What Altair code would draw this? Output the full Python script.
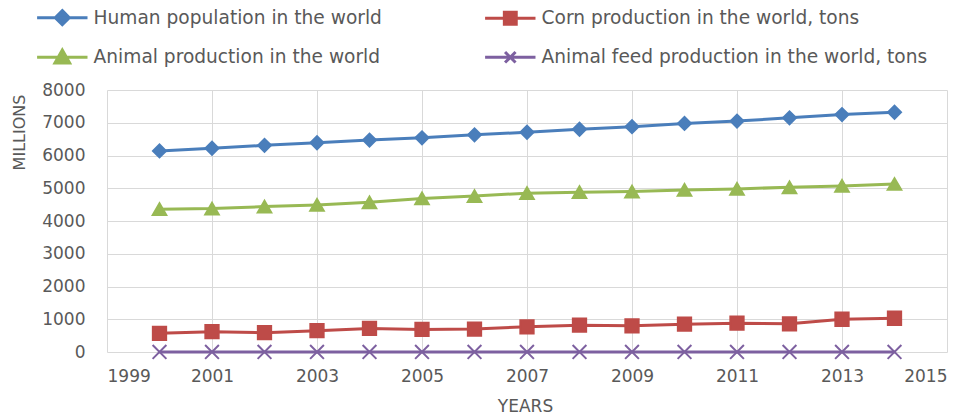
import altair as alt
import pandas as pd

years = list(range(2000, 2015))
series_names = [
    "Human population in the world",
    "Corn production in the world, tons",
    "Animal production in the world",
    "Animal feed production in the world, tons",
]
human = [6140, 6220, 6310, 6390, 6470, 6540, 6630, 6710, 6800, 6880, 6980, 7050, 7150, 7250, 7320]
corn = [570, 620, 590, 650, 720, 690, 700, 770, 820, 800, 850, 880, 860, 1000, 1030]
animal = [4360, 4380, 4440, 4490, 4570, 4690, 4760, 4850, 4880, 4900, 4950, 4980, 5030, 5070, 5130]
feed = [1] * 15

values_by_series = [human, corn, animal, feed]
rows = []
for name, vals in zip(series_names, values_by_series):
    for yr, v in zip(years, vals):
        rows.append({"year": yr, "series": name, "value": v})
df = pd.DataFrame(rows)

colors = ["#4A7EBB", "#BE4B48", "#98B954", "#7D60A0"]
shapes = ["diamond", "square", "triangle-up", "M-1,-1L1,1M1,-1L-1,1"]
legend_shapes = [
    "M-3.6,0H3.6M0,-1L1,0L0,1L-1,0Z",
    "M-3.6,0H3.6M-0.85,-0.85H0.85V0.85H-0.85Z",
    "M-3.6,0H3.6M0,-1.05L1.05,0.8L-1.05,0.8Z",
    "M-3.6,0H3.6M-0.75,-0.75L0.75,0.75M0.75,-0.75L-0.75,0.75",
]

x_enc = alt.X("year:Q", scale=alt.Scale(domain=[1999, 2015], nice=False, zero=False),
              axis=alt.Axis(values=list(range(1999, 2016, 2)), format="d", title="YEARS",
                            titleX=418, titleY=54, titleBaseline="middle", titleAlign="center",
                            labelPadding=16, labelFontSize=17, titleFontSize=17))
y_enc = alt.Y("value:Q", scale=alt.Scale(domain=[0, 8000], nice=False),
              axis=alt.Axis(values=list(range(0, 8001, 1000)), format="d", labelOverlap=False,
                            title="MILLIONS", labelFontSize=17,
                            titleX=-88, titleY=42, titleAngle=-90, titleBaseline="middle",
                            titleAlign="center", labelPadding=22))

base = alt.Chart(df)

lines = base.mark_line(strokeWidth=3).encode(
    x=x_enc, y=y_enc,
    color=alt.Color("series:N", scale=alt.Scale(domain=series_names, range=colors), legend=None),
)

points = base.mark_point(filled=True, opacity=1, strokeWidth=2).encode(
    x=x_enc, y=y_enc,
    fill=alt.Fill("series:N", scale=alt.Scale(domain=series_names, range=colors), legend=None),
    stroke=alt.Stroke("series:N", scale=alt.Scale(domain=series_names, range=colors), legend=None),
    shape=alt.Shape("series:N", scale=alt.Scale(domain=series_names, range=shapes), legend=None),
    size=alt.Size("series:N", scale=alt.Scale(domain=series_names, range=[170, 190, 190, 80]), legend=None),
)

leg = alt.Legend(
    title=None, orient="none", legendX=-54, legendY=-82, columns=2, direction="horizontal",
    columnPadding=97, rowPadding=12, labelLimit=400, labelFontSize=18.6, labelColor="#595959",
    labelOffset=22, symbolSize=196, symbolStrokeWidth=3, padding=0,
)
legend_layer = base.transform_filter("false").mark_point(filled=True, opacity=1, size=196).encode(
    x=x_enc, y=y_enc,
    fill=alt.Fill("series:N", scale=alt.Scale(domain=series_names, range=colors), legend=leg),
    stroke=alt.Stroke("series:N", scale=alt.Scale(domain=series_names, range=colors), legend=leg),
    shape=alt.Shape("series:N", scale=alt.Scale(domain=series_names, range=legend_shapes), legend=leg),
)

chart = alt.layer(lines, points, legend_layer).resolve_scale(
    fill="independent", stroke="independent", shape="independent", size="independent"
).properties(
    width=840, height=262,
    autosize=alt.AutoSizeParams(type="none"),
    padding={"left": 107, "top": 90, "right": 27, "bottom": 64},
).configure(
    font="DejaVu Sans",
).configure_view(
    stroke=None,
).configure_axis(
    grid=True, gridColor="#D9D9D9", gridWidth=1, domain=False, ticks=False,
    labelFontSize=16, labelColor="#595959", titleFontSize=16, titleColor="#595959",
    titleFontWeight="normal", labelOverlap=False,
).configure_axisY(
    labelOverlap=False,
)

chart.save("out.html", embed_options={"renderer": "svg", "actions": False})
